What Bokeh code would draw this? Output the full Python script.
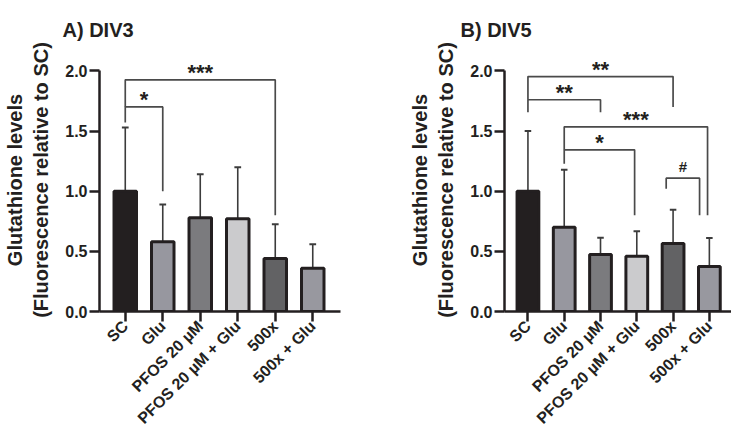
import math
from bokeh.plotting import figure
from bokeh.layouts import row
from bokeh.models import FixedTicker, ColumnDataSource
from bokeh.core.properties import value
from bokeh.embed import file_html
from bokeh.resources import INLINE

# ---- data ----
categories = ["SC", "Glu", "PFOS 20 µM", "PFOS 20 µM + Glu", "500x", "500x + Glu"]
bar_colors = ["#231f20", "#97979f", "#7b7b7e", "#cbcbcd", "#626264", "#98989f"]

div3_mean = [1.00, 0.58, 0.78, 0.77, 0.44, 0.36]
div3_sd = [0.53, 0.31, 0.36, 0.43, 0.285, 0.20]

div5_mean = [1.00, 0.70, 0.474, 0.46, 0.565, 0.374]
div5_sd = [0.50, 0.478, 0.139, 0.207, 0.28, 0.236]

# significance brackets: (x_left, x_right, level, left_leg_end, right_leg_end, label)
div3_brackets = [
    (0, 1, 1.70, 1.57, 1.00, "*"),
    (0, 4, 1.926, 1.70, 0.80, "***"),
]
div5_brackets = [
    (0, 4, 1.953, 1.76, 1.70, "**"),
    (0, 2, 1.76, 1.657, 1.657, "**"),
    (1, 4.95, 1.535, 1.344, 0.80, "***"),
    (1, 2.94, 1.344, 1.228, 0.80, "*"),
    (3.81, 4.73, 1.108, 1.02, 0.80, "#"),
]

y_ticks = [0, 0.5, 1.0, 1.5, 2.0]
y_label = "Glutathione levels\n(Fluorescence relative to SC)"

FONT = "Liberation Sans"


def make_panel(title, means, sds, brackets, width, x_range, border_left, border_right, title_offset):
    p = figure(width=width, height=438, x_range=x_range, y_range=(0, 2.186),
               output_backend="svg", toolbar_location=None,
               min_border_left=border_left, min_border_right=border_right,
               min_border_top=48, min_border_bottom=127)
    p.outline_line_color = None
    p.xgrid.visible = False
    p.ygrid.visible = False
    p.background_fill_color = "white"
    p.border_fill_color = "white"

    xs = list(range(len(categories)))
    src = ColumnDataSource(dict(x=xs, top=means, color=bar_colors,
                                up=[m + s for m, s in zip(means, sds)]))
    # error bars (upper only)
    p.segment(x0="x", y0="top", x1="x", y1="up", source=src,
              line_color="#3c3c3c", line_width=1.6)
    cap = 0.09
    p.segment(x0=[x - cap for x in xs], y0=src.data["up"],
              x1=[x + cap for x in xs], y1=src.data["up"],
              line_color="#3c3c3c", line_width=2)
    # bars
    p.vbar(x="x", top="top", bottom=0, width=0.6, source=src,
           fill_color="color", line_color="#231f20", line_width=3)

    # brackets
    bx, by, tx, ty, tl, tsize, toff = [], [], [], [], [], [], []
    for (x0, x1, lvl, l_end, r_end, lab) in brackets:
        bx.append([x0, x0, x1, x1])
        by.append([l_end, lvl, lvl, r_end])
        tx.append((x0 + x1) / 2)
        ty.append(lvl)
        tl.append(lab)
        tsize.append("15px" if lab == "#" else "22px")
        toff.append(-12 if lab == "#" else -7)
    p.multi_line(xs=bx, ys=by, line_color="#4a4a4a", line_width=1.7)
    p.text(x=tx, y=ty, text=tl, text_font=value(FONT), text_font_size=tsize,
           y_offset=toff, text_align="center", text_baseline="alphabetic",
           text_color="#231f20", text_font_style="bold")

    # axes
    yax = p.yaxis[0]
    yax.ticker = FixedTicker(ticks=y_ticks)
    yax.major_label_overrides = {t: f"{t:.1f}" for t in y_ticks}
    yax.bounds = (0, 2)
    yax.axis_line_width = 2.5
    yax.axis_line_color = "#231f20"
    yax.major_tick_line_width = 2.5
    yax.major_tick_line_color = "#231f20"
    yax.major_tick_out = 10
    yax.major_tick_in = 0
    yax.minor_tick_line_color = None
    yax.major_label_text_font = FONT
    yax.major_label_text_font_style = "bold"
    yax.major_label_text_font_size = "16px"
    yax.major_label_text_color = "#231f20"
    yax.major_label_standoff = 2
    yax.axis_label = y_label
    yax.axis_label_text_font = FONT
    yax.axis_label_text_font_style = "bold"
    yax.axis_label_text_font_size = "20px"
    yax.axis_label_text_color = "#231f20"
    yax.axis_label_standoff = 10

    xax = p.xaxis[0]
    xax.ticker = FixedTicker(ticks=xs)
    xax.major_label_overrides = {i: c for i, c in enumerate(categories)}
    xax.major_label_orientation = math.pi / 4
    xax.axis_line_width = 2.5
    xax.axis_line_color = "#231f20"
    xax.major_tick_line_width = 2.5
    xax.major_tick_line_color = "#231f20"
    xax.major_tick_out = 10
    xax.major_tick_in = 0
    xax.minor_tick_line_color = None
    xax.major_label_text_font = FONT
    xax.major_label_text_font_style = "bold"
    xax.major_label_text_font_size = "16px"
    xax.major_label_text_color = "#231f20"
    xax.major_label_standoff = 2

    p.title.text = title
    p.title.text_font = FONT
    p.title.text_font_style = "bold"
    p.title.text_font_size = "20px"
    p.title.text_color = "#231f20"
    p.title.align = "left"
    p.title.offset = title_offset
    p.title.standoff = 16
    return p


p1 = make_panel("A) DIV3", div3_mean, div3_sd, div3_brackets, 405,
                (-0.687, 5.74), 99, 65, -37)
p2 = make_panel("B) DIV5", div5_mean, div5_sd, div5_brackets, 326,
                (-0.646, 5.61), 91, 0, -44)

layout = row(p1, p2)
open("out.html", "w").write(file_html(layout, INLINE))
